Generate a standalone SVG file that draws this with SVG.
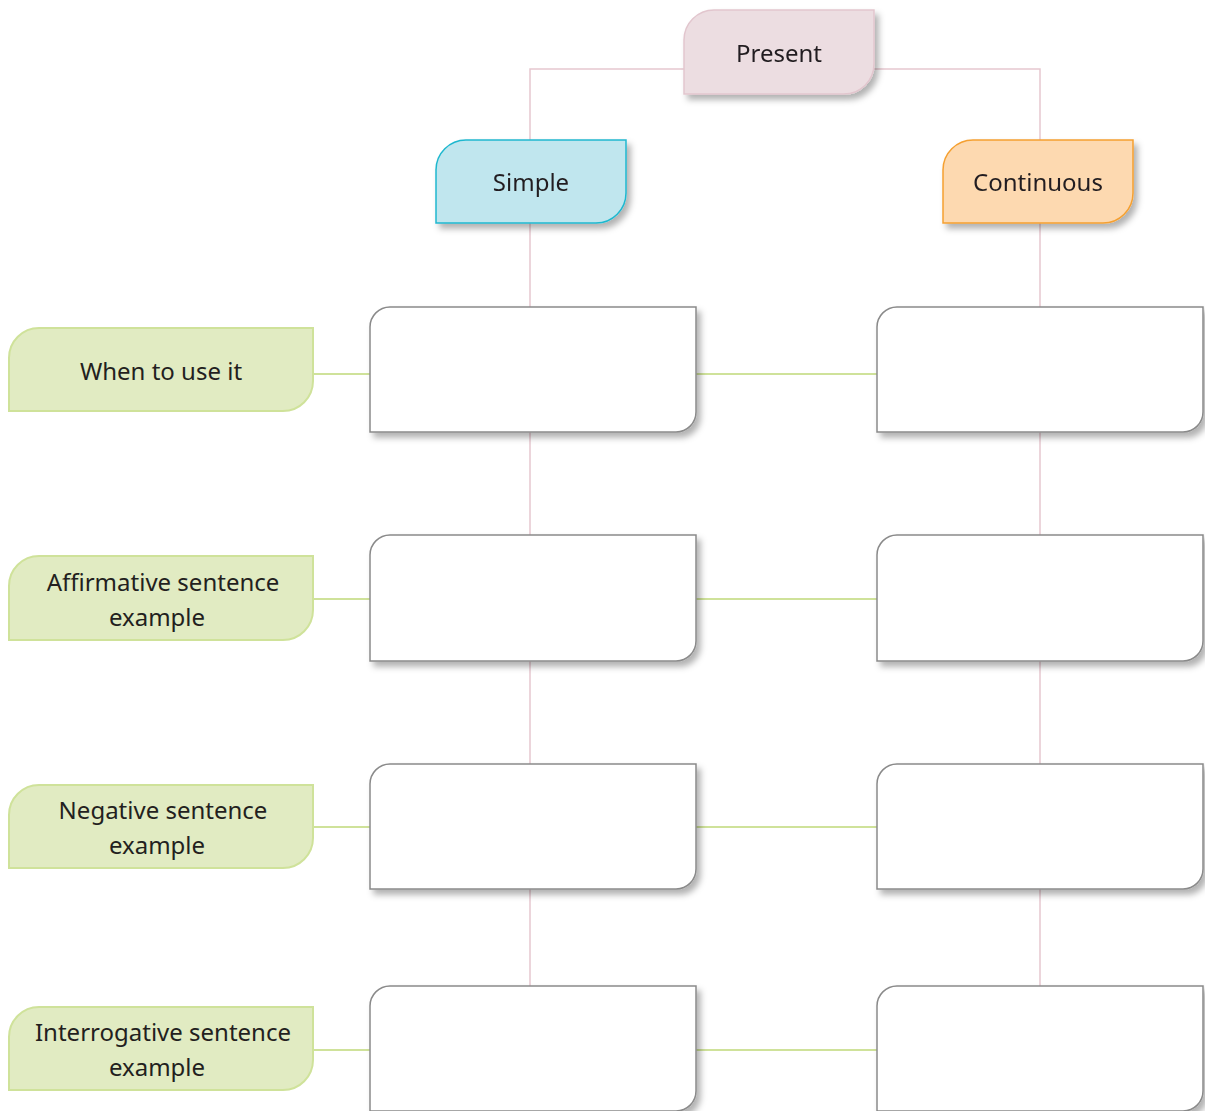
<svg xmlns="http://www.w3.org/2000/svg" width="1205" height="1111" viewBox="0 0 1205 1111">
<style>
.t{font-family:"Noto Sans","Open Sans","Liberation Sans",sans-serif;font-size:24px;fill:#231f20;text-anchor:middle}
.pink{stroke:#e6c8d0;stroke-width:1.5;fill:none}
.green{stroke:#cfe29a;stroke-width:2;fill:none}
.box{fill:#fff;stroke:#8a8a8a;stroke-width:1.5}
.lab{fill:#e1ebc2;stroke:#cfe29a;stroke-width:2}
</style>
<defs>
<filter id="sh" x="-10%" y="-10%" width="130%" height="140%">
<feDropShadow dx="4" dy="5" stdDeviation="3" flood-color="#000" flood-opacity="0.3"/>
</filter>
</defs>
<g id="connectors">
<path class="pink" d="M684 69H530V140M874 69H1040V140"/>
<path class="pink" d="M530 223V1000M1040 223V1000"/>
<path class="green" d="M313 374H370M696 374H877"/>
<path class="green" d="M313 599H370M696 599H877"/>
<path class="green" d="M313 827H370M696 827H877"/>
<path class="green" d="M313 1050H370M696 1050H877"/>
</g>
<g id="present" filter="url(#sh)">
<path d="M714 10H874V64A30 30 0 0 1 844 94H684V40A30 30 0 0 1 714 10Z" fill="#ecdde1" stroke="#e2c6ce" stroke-width="1.5"/>
<text class="t" x="779" y="62">Present</text>
</g>
<g id="simple" filter="url(#sh)">
<path d="M466 140H626V193A30 30 0 0 1 596 223H436V170A30 30 0 0 1 466 140Z" fill="#c0e6ee" stroke="#1fb8cf" stroke-width="1.5"/>
<text class="t" x="531" y="191">Simple</text>
</g>
<g id="continuous" filter="url(#sh)">
<path d="M973 140H1133V193A30 30 0 0 1 1103 223H943V170A30 30 0 0 1 973 140Z" fill="#fdd9b0" stroke="#f5a030" stroke-width="1.5"/>
<text class="t" x="1038" y="191">Continuous</text>
</g>
<g id="label-when">
<path class="lab" d="M39 328H313V381A30 30 0 0 1 283 411H9V358A30 30 0 0 1 39 328Z"/>
<text class="t" x="161" y="380">When to use it</text>
</g>
<g id="label-affirmative">
<path class="lab" d="M39 556H313V610A30 30 0 0 1 283 640H9V586A30 30 0 0 1 39 556Z"/>
<text class="t" x="163" y="591">Affirmative sentence</text>
<text class="t" x="157" y="626">example</text>
</g>
<g id="label-negative">
<path class="lab" d="M39 785H313V838A30 30 0 0 1 283 868H9V815A30 30 0 0 1 39 785Z"/>
<text class="t" x="163" y="819">Negative sentence</text>
<text class="t" x="157" y="854">example</text>
</g>
<g id="label-interrogative">
<path class="lab" d="M39 1007H313V1060A30 30 0 0 1 283 1090H9V1037A30 30 0 0 1 39 1007Z"/>
<text class="t" x="163" y="1041">Interrogative sentence</text>
<text class="t" x="157" y="1076">example</text>
</g>
<g id="box-s1" filter="url(#sh)"><path class="box" d="M390 307H696V412A20 20 0 0 1 676 432H370V327A20 20 0 0 1 390 307Z"/></g>
<g id="box-c1" filter="url(#sh)"><path class="box" d="M897 307H1203V412A20 20 0 0 1 1183 432H877V327A20 20 0 0 1 897 307Z"/></g>
<g id="box-s2" filter="url(#sh)"><path class="box" d="M390 535H696V641A20 20 0 0 1 676 661H370V555A20 20 0 0 1 390 535Z"/></g>
<g id="box-c2" filter="url(#sh)"><path class="box" d="M897 535H1203V641A20 20 0 0 1 1183 661H877V555A20 20 0 0 1 897 535Z"/></g>
<g id="box-s3" filter="url(#sh)"><path class="box" d="M390 764H696V869A20 20 0 0 1 676 889H370V784A20 20 0 0 1 390 764Z"/></g>
<g id="box-c3" filter="url(#sh)"><path class="box" d="M897 764H1203V869A20 20 0 0 1 1183 889H877V784A20 20 0 0 1 897 764Z"/></g>
<g id="box-s4" filter="url(#sh)"><path class="box" d="M390 986H696V1091A20 20 0 0 1 676 1111H370V1006A20 20 0 0 1 390 986Z"/></g>
<g id="box-c4" filter="url(#sh)"><path class="box" d="M897 986H1203V1091A20 20 0 0 1 1183 1111H877V1006A20 20 0 0 1 897 986Z"/></g>
</svg>
